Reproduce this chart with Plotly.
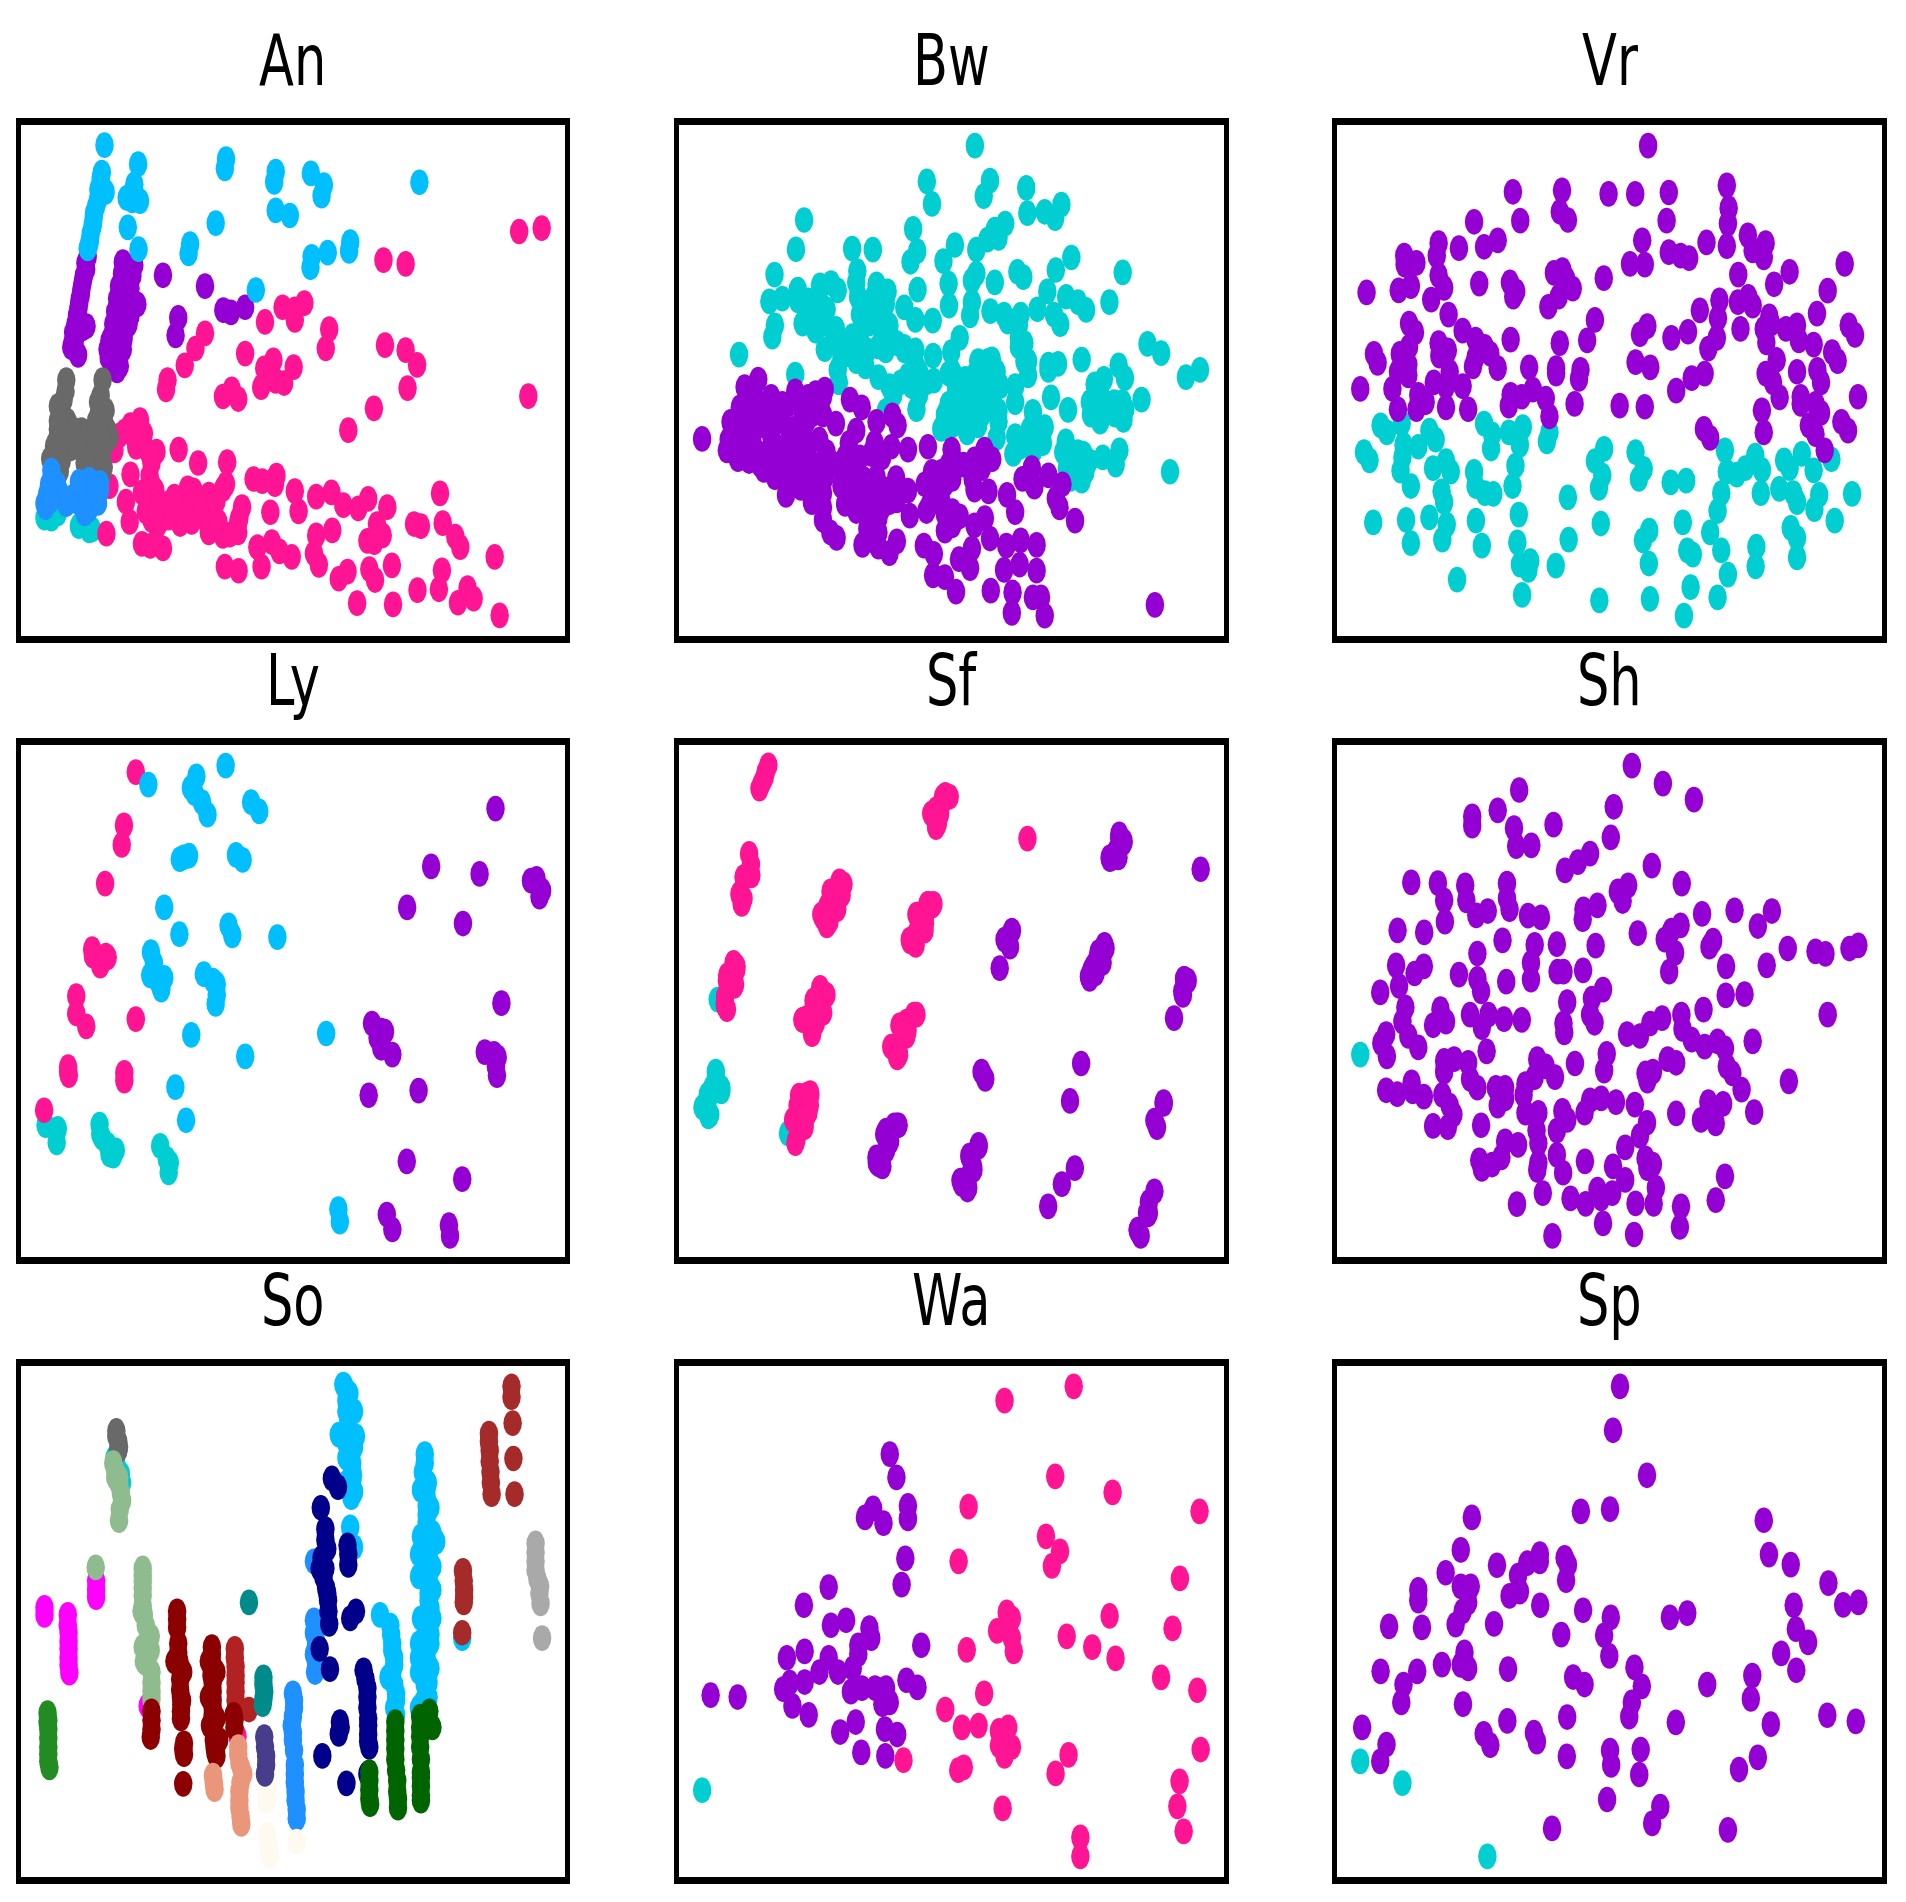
"""Nine small scatter panels of embedded points, coloured by class."""

import plotly.graph_objects as go
from plotly.subplots import make_subplots

PINK = "#FF1493"
VIOLET = "#9400D3"
TURQ = "#00CED1"
SKY = "#00BFFF"
DODGER = "#1E90FF"
DIMGRAY = "#696969"
SEAGREEN = "#8FBC8F"
DARKRED = "#8B0000"
FIREBRICK = "#B22222"
BROWN = "#A52A2A"
NAVY = "#00008B"
DARKGREEN = "#006400"
FOREST = "#228B22"
MAGENTA = "#FF00FF"
DARKGRAY = "#A9A9A9"
DARKCYAN = "#008B8B"
SALMON = "#E9967A"
SLATE = "#483D8B"
FLORAL = "#FFFAF0"

an_turq = [(115,1230),(133,1232),(150,1220),(205,1250),(232,1260),(240,1258)]
an_pink = [(365,998),(340,1010),(310,1035),(298,1070),(355,1062),(375,1060),(408,1073),(466,1068),(517,1100),(593,1098),(340,1127),(390,1130),(285,1155),(405,1165),(328,1192),(338,1240),(385,1200),(440,1195),(395,1235),(420,1235),(470,1245),(450,1210),(490,1160),(505,1165),(490,1205),(545,1175),(582,1162),(555,1215),(520,1220),(545,1265),(582,1273),(622,1265),(632,1205),(625,1230),(662,1138),(685,1143),(722,1130),(718,1150),(706,1217),(770,1167),(780,1215),(826,1180),(866,1170),(897,1200),(936,1208),(962,1185),(1012,1205),(985,1245),(1000,1272),(960,1285),(978,1288),(826,1272),(868,1260),(1150,1172),(1082,1245),(1100,1250),(1157,1243),(1190,1275),(1203,1300),(672,1300),(710,1288),(730,1310),(762,1323),(820,1315),(833,1342),(683,1346),(587,1346),(623,1356),(277,1268),(370,1292),(392,1297),(425,1303),(885,1375),(908,1358),(965,1352),(980,1378),(1024,1343),(1155,1355),(1147,1400),(1091,1402),(1293,1323),(1222,1397),(1238,1422),(1197,1432),(933,1433),(1027,1436),(1306,1462),
           (1002,618),(1060,627),(1357,550),(1416,542),(738,730),(770,735),(795,720),(770,760),(692,765),(535,792),(510,828),(482,868),(437,903),(433,925),(860,782),(851,828),(640,840),(714,856),(690,875),(767,872),(682,920),(720,905),(742,910),(605,925),(582,942),(622,948),(1006,820),(1060,832),(1090,867),(1065,922),(1381,941),(977,970),(910,1022),
           (395,1100),(395,1150),(370,1170),(380,1215),(415,1200),(410,1250),(440,1230),(465,1210),(520,1190),(540,1240),(500,1240),(480,1190),(530,1205),(570,1240),(600,1270),(622,1240),(375,1030),(390,1080),(408,1215),(455,1180),(350,1040),(325,1025),(590,1150),(565,1190)]
an_violet = [(228,610),(224,640),(215,670),(210,700),(205,725),(200,750),(215,780),(190,790),(188,815),(203,843),(320,623),(350,630),(318,650),(345,655),(310,680),(340,685),(358,723),(305,710),(330,740),(300,740),(295,770),(320,770),(290,800),(322,805),(280,830),(310,840),(283,850),(312,870),(300,860),(425,654),(535,680),(465,755),(458,797),(583,737),(603,742),(640,730),
             (222,625),(218,655),(212,685),(207,712),(203,738),(196,770),(195,805),(225,775),(185,825),(335,640),(330,670),(320,695),(335,715),(345,720),(315,730),(340,750),(310,755),(335,770),(305,790),(325,785),(295,820),(320,830),(290,840),(305,880),(285,810)]
an_sky = [(272,345),(360,390),(590,378),(587,400),(720,408),(716,432),(812,412),(846,440),(840,465),(1096,433),(720,500),(757,512),(563,530),(262,423),(256,450),(275,456),(250,490),(244,515),(240,540),(234,570),(232,580),(350,452),(345,476),(365,478),(333,540),(361,592),(496,580),(492,602),(915,575),(912,596),(856,600),(814,610),(811,635),(668,689),
          (265,410),(262,435),(245,505),(236,555),(228,590),(242,530),(255,475),(350,438),(330,470)]
an_gray = [(172,903),(165,950),(155,990),(150,1020),(145,1050),(140,1080),(140,1100),(180,1040),(185,1065),(212,1022),(155,1120),(267,903),(262,940),(258,975),(275,975),(250,1020),(280,1022),(240,1050),(265,1060),(235,1085),(265,1090),(232,1120),(265,1130),
           (160,975),(175,1000),(150,1000),(190,1020),(165,1030),(140,1060),(165,1065),(130,1090),(160,1095),(210,1040),(200,1060),(250,1000),(270,1000),(285,1040),(260,1030),(250,1080),(220,1100),(270,1110),(270,1060),(150,965),(170,930),(255,955)]
an_dodger = [(133,1118),(127,1150),(148,1150),(122,1175),(118,1205),(172,1198),(205,1160),(232,1140),(260,1148),(255,1175),(205,1195),(232,1210),(255,1195),(232,1180),(205,1175),
             (135,1135),(125,1165),(115,1195),(190,1180),(220,1165),(245,1165),(260,1165),(205,1145),(240,1195),(220,1220),(155,1170),(130,1190)]

bw_turq = [(851,127),(721,227),(735,290),(892,225),(875,268),(990,245),(993,316),(1040,312),(1085,292),(1068,330),(389,335),(367,417),(519,415),(575,418),(684,360),(695,422),(677,452),(797,405),(766,450),(855,418),(885,390),(905,362),(933,345),(915,385),(1112,440),(1070,475),(1251,482),(309,488),(533,478),(530,510),(855,485),(843,505),(966,480),(982,495),(905,510),(780,513),(696,530),(1047,535),(372,530),(432,518),(462,512),(480,532),(585,515),(615,535),(295,563),(330,555),(372,560),(400,560),(432,565),(535,550),(580,545),(610,570),(660,580),(690,615),(737,617),(781,575),(843,565),(838,602),(893,590),(930,600),(975,600),(1020,585),(1098,550),(1130,565),(1152,587),(1215,565),(1065,600),(1082,627),(310,630),(303,662),(385,625),(440,625),(420,645),(475,640),(540,600),(565,625),(610,620),(625,670),(810,665),(787,705),(970,665),(1318,682),(1355,708),(445,697),(490,680),(540,670),(590,690),(610,700),(660,700),(738,715),(897,725),(970,690),(995,730),(1140,726),(1240,742),(1076,738),(1050,755),(1257,778),(1200,780),(1175,795),(1422,775),(1460,755),(213,712),(490,720),(480,755),(530,730),(555,745),(590,775),(690,740),(670,770),(740,785),(780,765),(885,730),(910,760),(850,770),(825,780),(483,790),(365,768),(630,825),(700,825),(693,865),(610,870),(800,820),(860,810),(900,810),(960,800),(995,770),(960,845),(1057,832),(1103,867),(1008,872),(1162,845),(1190,850),(1190,900),(1228,845),(1258,865),(1253,895),(1302,838),(770,880),(800,870),(830,860),(880,850),(760,920),(790,910),(830,930),(860,910),(915,900),(910,945),(960,940),(955,990),(1000,950),(1040,915),(1035,960),(1097,955),(1090,985),(1130,985),(1145,990),(1150,1040),(1140,1065),(1100,1030),(1197,1000),(1242,980),(1232,1020),(1379,1040),(1005,1030),
           (540,560),(560,590),(590,600),(600,650),(620,630),(560,700),(520,660),(500,700),(470,670),(640,680),(660,690),(690,700),(700,760),(720,790),(650,790),(620,800),(680,800),(800,800),(790,760),(860,730),(880,790),(870,840),(840,830),(830,800),(810,880),(780,850),(870,880),(900,850),(920,800),(915,870),(825,900),(1120,1010),(1100,985),(1130,1030),(1110,1060),(1160,1010),(1000,920),(975,970),(1010,980),(1050,740),(985,680),(985,730),(940,620),(970,630),(430,600),(410,600),(450,585),(395,620),(1165,880),(1190,820),(1230,880),(1250,845)]
bw_violet = [(113,948),(265,782),(228,803),(300,830),(365,815),(400,830),(445,810),(440,830),(513,838),(545,860),(628,882),(642,910),(210,890),(240,860),(280,870),(330,850),(205,950),(230,900),(270,910),(310,900),(360,920),(390,950),(180,980),(210,1005),(240,1010),(280,1035),(310,1055),(250,960),(300,970),(335,970),(375,975),(340,1010),(375,1015),(430,950),(410,880),(475,905),(530,925),(585,900),(580,960),(510,960),(625,970),(670,978),(724,970),(788,978),(877,978),(898,1005),(850,1005),(450,985),(430,1020),(400,1050),(340,1105),(410,1125),(440,1100),(500,1000),(510,1040),(490,1080),(500,1130),(540,1000),(585,1055),(580,1090),(620,1125),(540,1080),(560,1150),(590,1170),(638,1058),(670,1093),(735,1040),(780,1020),(715,1075),(770,1075),(845,1060),(888,1095),(850,1090),(938,1105),(960,1153),(980,1060),(1005,1030),(1012,1082),(1050,1050),(1088,1075),(1070,1115),(1080,1140),(1122,1177),(675,1163),(720,1150),(760,1120),(790,1150),(810,1165),(850,1190),(878,1170),(892,1227),(770,1205),(440,1175),(460,1210),(477,1225),(547,1245),(590,1250),(620,1268),(640,1235),(713,1247),(740,1270),(975,1232),(936,1247),(1018,1245),(843,1255),(808,1285),(838,1310),(930,1315),(972,1300),(1018,1317),(738,1330),(770,1335),(800,1376),(894,1373),(953,1378),(1008,1392),(1030,1392),(1040,1443),(951,1435),(1338,1413),
             (255,830),(290,850),(350,850),(380,860),(420,820),(215,860),(190,900),(185,950),(220,930),(250,890),(280,900),(300,940),(330,900),(350,945),(395,900),(440,880),(200,975),(230,975),(270,990),(305,1005),(270,1020),(330,1040),(350,1060),(370,1050),(300,1035),(400,1000),(420,1070),(445,1055),(450,1040),(400,1090),(380,1085),(440,1140),(480,1020),(530,1040),(550,1060),(510,1110),(540,1120),(580,1125),(600,1140),(560,1200),(590,1210),(530,1150),(520,1080),(600,1000),(570,990),(610,1090),(640,1120),(740,1090),(790,1060),(790,1000),(760,1040),(735,1085),(820,1020),(850,1040),(870,1030),(730,1130),(770,1160),(790,1190)]

vr_turq = [(163,910),(180,930),(220,905),(295,925),(312,950),(225,965),(265,970),(118,985),(133,1008),(222,1000),(217,1037),(305,1030),(340,1010),(353,1040),(245,1080),(443,905),(465,935),(510,930),(548,915),(540,965),(462,975),(620,930),(613,955),(528,1023),(520,1080),(416,1040),(420,1080),(445,1100),(468,1102),(328,1095),(335,1125),(295,1168),(143,1182),(232,1175),(342,1188),(330,1230),(245,1240),(421,1177),(437,1247),(537,1160),(533,1238),(670,1112),(759,1185),(672,1230),(768,976),(743,1010),(763,1050),(754,1085),(853,985),(875,1032),(862,1060),(948,1070),(990,1065),(1095,980),(1100,1040),(1127,1048),(1150,1030),(1177,995),(1195,1035),(1192,1100),(1085,1100),(1075,1150),(1055,1210),(1242,1088),(1255,1008),(1270,1030),(1303,990),(1335,1036),(1280,1100),(1290,1125),(1337,1145),(1350,1105),(1439,1102),(1392,1177),(1273,1197),(1290,1225),(1290,1280),(890,1205),(873,1232),(889,1297),(981,1182),(993,1260),(1008,1272),(1085,1260),(1180,1250),(1103,1328),(1178,1305),(568,1290),(540,1300),(563,1315),(637,1303),(370,1342),(546,1385),(755,1400),(892,1396),(1002,1363),(1075,1392),(984,1443),(1383,1005)]
vr_violet = [(887,127),(521,256),(654,252),(780,262),(852,262),(943,258),(1100,238),(1105,302),(416,340),(541,337),(648,312),(670,335),(937,337),(1103,345),(1157,378),(1100,408),(1045,398),(871,392),(943,425),(975,435),(998,442),(838,458),(878,460),(1205,400),(1170,420),(1200,440),(480,392),(443,410),(375,414),(320,400),(315,435),(227,435),(228,460),(260,455),(1131,488),(1270,480),(1228,515),(1419,458),(1373,533),(767,498),(430,513),(513,510),(530,535),(522,550),(655,475),(632,483),(665,500),(683,527),(645,550),(617,578),(125,538),(212,532),(245,520),(320,490),(335,525),(300,558),(347,600),(1080,560),(1130,565),(1158,550),(1170,575),(1076,610),(1027,588),(1215,605),(1344,597),(995,648),(950,665),(885,632),(865,655),(1137,640),(1430,630),(1447,657),(743,615),(722,672),(240,625),(256,650),(1200,640),(1220,625),(1260,640),(1290,630),(1207,678),(1295,672),(1335,684),(1073,665),(1050,695),(1385,705),(1400,730),(515,670),(648,680),(385,645),(320,680),(345,700),(420,670),(445,690),(420,720),(460,710),(322,715),(145,710),(155,735),(240,690),(215,710),(238,740),(210,760),(238,770),(1235,727),(480,750),(413,745),(565,748),(638,750),(638,765),(704,755),(700,780),(853,733),(893,748),(350,760),(1040,765),(1005,778),(963,813),(1205,765),(1225,790),(1243,832),(1290,760),(1345,755),(1355,790),(108,808),(195,808),(307,790),(385,800),(340,800),(265,825),(285,845),(210,865),(260,865),(340,860),(400,865),(575,810),(545,830),(515,825),(510,855),(610,835),(620,885),(688,850),(810,855),(878,858),(1195,868),(1300,830),(1340,850),(1355,875),(1300,850),(1038,920),(1055,945),(1200,930),(1322,910),(1340,935),(1410,900),(1428,925),(1455,830),(1365,980)]

ly_turq = [(122,1135),(155,1145),(152,1183),(268,1133),(275,1170),(295,1217),(312,1205),(432,1193),(458,1240),(455,1267),(270,1160),(290,1190),(305,1220),(450,1230)]
ly_pink = [(366,146),(334,295),(328,350),(283,458),(248,642),(285,660),(270,688),(205,773),(205,822),(232,858),(366,838),(183,972),(185,995),(335,988),(335,1010),(118,1093),(265,670),(250,660),(290,665),(183,985)]
ly_sky = [(400,181),(609,128),(530,158),(515,190),(545,230),(560,265),(678,230),(700,256),(485,390),(510,380),(637,378),(655,392),(443,525),(484,600),(617,575),(627,603),(749,608),(407,650),(415,710),(443,722),(435,755),(550,712),(585,740),(582,795),(516,882),(662,942),(881,878),(473,1028),(502,1121),(914,1370),(918,1405),(415,680),(420,720),(430,740),(405,715),(575,730),(585,770),(495,385),(525,205)]
ly_violet = [(1339,248),(1165,410),(1296,431),(1435,450),(1450,445),(1465,478),(1458,495),(1100,525),(1251,570),(1355,793),(1005,850),(1040,873),(1030,918),(1060,937),(1310,930),(1345,945),(1343,995),(996,1051),(1131,1038),(1099,1236),(1249,1286),(1045,1385),(1060,1427),(1213,1415),(1216,1445),(1030,870),(1020,890),(1335,935),(1340,970)]

sf_turq = [(150,985),(165,1030),(130,1060),(135,1105),(155,783),(345,1158),(150,1000),(165,1040),(140,1030),(125,1075),(130,1110),(114,1085),(128,1050)]
sf_pink = [(292,127),(282,160),(268,192),(775,213),(732,262),(750,290),(762,230),(992,332),(240,375),(237,435),(215,490),(225,500),(484,452),(460,480),(452,520),(440,545),(457,565),(725,515),(695,545),(700,570),(680,615),(690,630),(198,680),(185,715),(192,740),(175,800),(432,750),(442,770),(420,790),(395,835),(410,870),(685,825),(650,855),(655,880),(630,915),(645,938),(395,1050),(385,1060),(375,1105),(380,1130),(368,1175),
           (285,145),(275,175),(770,210),(745,250),(755,265),(745,300),(245,405),(225,440),(240,425),(220,515),(490,465),(465,490),(470,520),(440,555),(450,575),(475,500),(735,520),(710,540),(715,570),(690,600),(675,620),(715,550),(205,700),(180,730),(200,745),(175,775),(180,810),(445,770),(415,800),(440,820),(385,840),(420,850),(410,880),(690,825),(665,845),(665,885),(630,920),(640,945),(405,1045),(375,1075),(400,1100),(360,1120),(390,1140),(365,1185),
           (495,460),(435,545),(490,490),(478,530),(782,215),(764,215),(756,260),(246,435),(214,487),(738,515),(722,515),(692,545),(714,590),(674,615),(206,690),(202,740),(181,715),(174,795),(449,770),(384,840),(436,820),(414,785),(692,825),(646,855),(624,915),(668,870),(644,930),(375,1052),(405,1052),(359,1120),(391,1120),(371,1080),(404,1080)]
sf_violet = [(1240,332),(1225,385),(1460,418),(950,590),(930,615),(945,635),(917,695),(1200,635),(1180,670),(1165,700),(1158,718),(1415,725),(1412,770),(1388,835),(868,985),(878,1005),(1137,962),(1107,1067),(1360,1070),(1335,1122),(1342,1140),(632,1135),(605,1160),(610,1205),(590,1245),(597,1240),(860,1195),(840,1225),(840,1265),(815,1290),(832,1310),(1120,1255),(1085,1300),(1048,1362),(1335,1320),(1315,1380),(1290,1427),(1298,1445),
             (1240,320),(1250,345),(1230,370),(1215,390),(1200,630),(1190,660),(1170,690),(1195,680),(1160,725),(640,1135),(610,1150),(615,1190),(585,1240),(600,1250),(860,1190),(835,1220),(845,1250),(815,1300),(830,1315),(1425,730),(1410,760),(1320,1350),(1318,1385),(1290,1430),(1360,1075),
             (644,1135),(584,1225),(621,1180),(836,1225),(811,1290),(846,1260),(1252,340),(1214,385),(1238,385),(1203,640),(1184,650),(1176,710),(1159,718),(1416,725),(1320,1380)]

sh_turq = [(108,937)]
sh_violet = [(843,128),(927,178),(1011,223),(538,196),(794,243),(480,253),(411,270),(411,296),(631,293),(524,303),(786,329),(530,353),(571,351),(730,374),(697,398),(662,421),(897,408),(246,455),(318,457),(335,505),(392,463),(395,505),(422,547),(453,535),(505,458),(505,500),(512,530),(337,565),(978,458),(833,463),(805,480),(818,507),(750,519),(712,530),(710,558),(562,548),(597,553),(1033,543),(1121,533),(1222,535),(1184,577),(209,589),(281,595),(859,597),(975,575),(950,590),(932,615),(493,617),(580,630),(640,628),(745,632),(1063,618),(1053,635),(1265,640),(1340,648),(1367,655),(1432,640),(1456,631),(425,654),(960,652),(1098,690),(1208,687),(205,687),(280,690),(255,710),(375,713),(425,725),(570,680),(570,727),(503,733),(642,705),(658,705),(711,701),(944,705),(435,760),(213,745),(162,763),(765,755),(735,780),(668,790),(1097,771),(1148,768),(1037,811),(1373,825),(230,805),(325,810),(305,855),(340,845),(405,825),(455,825),(497,838),(545,840),(437,860),(658,850),(660,875),(730,825),(742,848),(222,845),(178,880),(165,905),(180,942),(238,885),(265,917),(977,825),(925,835),(893,850),(830,880),(865,885),(980,865),(1005,895),(1040,915),(1075,900),(1095,920),(1170,900),(450,928),(775,935),(689,962),(940,950),(963,960),(900,985),(880,990),(885,1010),(1100,970),(1115,990),(1268,1012),(335,955),(362,950),(335,985),(400,960),(405,1005),(425,1030),(587,950),(610,970),(635,1000),(768,982),(178,1037),(208,1048),(247,1015),(280,1055),(250,1040),(330,1050),(350,1080),(360,1105),(345,1140),(305,1137),(475,1030),(500,1030),(480,1080),(500,1060),(555,1020),(580,1000),(550,1050),(555,1100),(590,1100),(655,1095),(668,1120),(640,1150),(730,1065),(760,1060),(715,1100),(800,1070),(851,1077),(1140,1035),(1050,1070),(1090,1075),(1050,1100),(1030,1120),(1070,1130),(1174,1098),(963,1102),(884,1128),(865,1165),(825,1197),(435,1135),(500,1180),(535,1190),(585,1150),(590,1185),(640,1218),(430,1233),(437,1257),(465,1245),(490,1225),(590,1240),(587,1260),(657,1268),(716,1236),(792,1250),(825,1288),(880,1228),(900,1245),(885,1255),(908,1310),(1095,1278),(1070,1345),(532,1356),(602,1325),(677,1340),(718,1355),(750,1315),(760,1340),(790,1325),(853,1354),(902,1355),(976,1362),(765,1410),(628,1445),(849,1441),(973,1420)]

so_turq = [(303,345),(315,375),(298,330),(318,400)]
so_pink = [(620,1110)]
so_sky = [(897,125),(913,150),(905,200),(910,225),(895,268),(915,275),(915,310),(920,345),(922,380),(918,410),(918,440),(915,525),(925,580),(1110,320),(1105,370),(1118,400),(1115,440),(1115,490),(1115,530),(1140,565),(1120,600),(1130,635),(1095,662),(1120,690),(1120,730),(1115,770),(1125,825),(1095,850),(1115,890),(1095,930),(1110,965),(1120,1000),(1095,1030),(993,770),(1022,825),(1025,870),(1030,910),(1015,945),(1035,990),(1030,1030),(1208,835),
          (905,170),(912,250),(905,290),(915,330),(920,365),(920,395),(925,425),(1110,345),(1115,415),(1115,465),(1115,510),(1118,550),(1125,580),(1115,620),(1115,650),(1120,670),(1120,710),(1125,750),(1115,800),(1110,830),(1105,870),(1110,910),(1110,945),(1115,985),(1105,1015),(1020,800),(1025,850),(1030,890),(1025,930),(1030,965),(1035,1010),(1035,1050),
          (1100,420),(1125,470),(1100,550),(1130,540),(1095,600),(1130,700),(1100,780),(1130,780),(1125,850),(1095,890),(1125,920),(1120,960),(900,130),(925,200),(885,265),(930,270),(905,330),(925,300),(905,400)]
so_dodger = [(820,620),(820,785),(825,860),(823,930),(765,990),(768,1030),(762,1080),(765,1120),(770,1190),(770,1240),(772,1290),(775,1340),(768,1010),(765,1055),(765,1100),(768,1150),(770,1215),(772,1265),(775,1315),(820,880),(825,900),(820,820),(825,840)]
so_magenta = [(250,700),(115,750),(176,770),(178,820),(178,865),(180,932),(385,1025),(250,675),(250,720),(176,800),(178,845),(178,890),(178,910),(115,770)]
so_dimgray = [(303,255),(308,285),(308,310),(303,270),(310,300)]
so_seagreen = [(300,365),(310,405),(318,450),(310,505),(249,637),(372,640),(372,715),(375,770),(385,840),(380,905),(395,960),(395,1005),(300,385),(315,430),(312,475),(372,675),(372,695),(372,745),(380,800),(385,870),(385,880),(395,930),(395,985),(372,660),(369,760),(372,860),(393,830),(393,870),(375,900),(310,385),(295,345)]
so_firebrick = [(613,865),(615,915),(615,960),(615,1010),(650,1035),(613,890),(615,940),(615,985)]
so_darkred = [(462,760),(462,805),(465,875),(470,920),(470,980),(473,1020),(472,1060),(395,1065),(393,1112),(480,1130),(480,1160),(478,1243),(553,880),(553,920),(555,960),(555,1010),(555,1050),(558,1100),(560,1140),(565,1165),(610,1050),(612,1085),
              (462,782),(465,850),(468,900),(470,950),(472,1000),(472,1040),(395,1090),(395,1040),(478,1145),(553,860),(553,900),(552,940),(555,985),(555,1030),(556,1075),(558,1120),(562,1155),(612,1065),
              (455,900),(478,930),(475,1010),(545,900),(565,930),(545,1000),(565,1060),(548,1080),(572,1120)]
so_navy = [(867,388),(883,412),(838,470),(850,530),(855,585),(835,640),(850,640),(852,695),(857,730),(860,795),(835,865),(862,922),(908,575),(910,630),(930,760),(915,780),(955,950),(960,1000),(962,1060),(962,1105),(965,1140),(888,1070),(885,1103),(842,1165),(905,1242),(960,1215),(850,560),(840,610),(845,665),(855,710),(858,760),(960,975),(960,1030),(962,1080),(962,1125),(950,925),(890,1085),(910,600)]
so_brown = [(1337,130),(1337,160),(1340,233),(1342,332),(1345,432),(1278,262),(1280,310),(1282,370),(1285,432),(1210,647),(1213,700),(1212,735),(1208,820),(1278,285),(1280,340),(1283,400),(1212,675),(1213,720)]
so_darkgray = [(1400,570),(1400,620),(1405,670),(1412,690),(1413,738),(1417,835),(1400,595),(1400,645),(1410,710)]
so_darkcyan = [(650,735),(688,945),(690,985),(686,1020),(688,965),(688,1005)]
so_floral = [(698,1260),(695,1290),(698,1385),(700,1415),(705,1445),(775,1405),(698,1275),(698,1400),(702,1430)]
so_salmon = [(622,1140),(625,1185),(635,1215),(625,1265),(625,1310),(630,1355),(556,1220),(560,1258),(622,1160),(628,1240),(625,1290),(628,1335),(630,1200),(558,1240)]
so_slate = [(690,1112),(695,1165),(692,1215),(692,1140),(695,1190)]
so_darkgreen = [(1033,1070),(1033,1120),(1033,1175),(1038,1235),(1040,1310),(1098,1055),(1122,1040),(1130,1085),(1098,1110),(1100,1175),(1100,1250),(1100,1275),(965,1210),(965,1260),(967,1300),(1033,1095),(1033,1145),(1035,1205),(1038,1265),(1098,1085),(1098,1140),(1100,1210),(1100,1225),(965,1235),(965,1285),(1040,1285),(1100,1290)]
so_forest = [(123,1045),(125,1090),(125,1140),(125,1180),(128,1197),(123,1070),(125,1115),(125,1160),(125,1065)]

wa_turq = [(113,1261)]
wa_violet = [(620,320),(638,385),(575,472),(553,497),(603,513),(669,465),(669,500),(662,612),(652,685),(455,692),(388,743),(461,799),(502,785),(565,807),(570,835),(535,855),(705,855),(342,890),(390,872),(455,890),(430,930),(480,930),(520,920),(535,880),(350,960),(390,958),(332,978),(357,1025),(401,1050),(515,985),(545,975),(580,975),(610,975),(620,1015),(600,1020),(665,953),(695,973),(136,995),(209,1000),(528,1070),(486,1098),(607,1090),(640,1105),(543,1155),(608,1165)]
wa_pink = [(930,170),(1117,130),(1067,382),(1222,427),(1457,480),(833,467),(1042,550),(1080,592),(1058,633),(806,620),(1404,668),(936,763),(950,780),(910,815),(950,835),(955,872),(1214,773),(1098,830),(1167,860),(1230,892),(1384,808),(828,868),(1353,945),(1451,981),(875,990),(770,1035),(815,1085),(860,1080),(915,1095),(940,1085),(915,1135),(950,1140),(930,1165),(1103,1162),(1068,1214),(1460,1147),(657,1177),(805,1205),(820,1197),(1403,1236),(1397,1306),(925,1312),(1414,1376),(1135,1393),(1135,1446)]

sp_turq = [(108,1180),(222,1241),(452,1446)]
sp_violet = [(811,130),(792,253),(884,379),(705,480),(784,474),(410,497),(1200,505),(380,588),(594,600),(594,620),(560,625),(535,660),(661,610),(670,630),(665,673),(478,631),(1214,601),(1273,629),(339,652),(1375,681),(380,690),(407,690),(400,735),(265,700),(265,730),(540,705),(512,717),(595,743),(1281,743),(1415,742),(1456,735),(385,760),(366,797),(275,805),(186,802),(470,795),(711,757),(786,777),(946,777),(993,765),(652,825),(768,827),(1287,810),(1320,847),(390,875),(380,910),(400,920),(329,909),(163,928),(262,928),(508,922),(782,885),(1247,878),(850,917),(1169,940),(1288,925),(684,944),(715,965),(870,970),(1047,965),(225,965),(219,1015),(1165,1005),(386,1020),(843,1015),(836,1055),(668,1056),(962,1071),(1372,1051),(1449,1068),(506,1067),(113,1085),(1219,1076),(442,1103),(460,1135),(578,1100),(586,1125),(179,1133),(162,1180),(667,1166),(784,1150),(787,1190),(867,1147),(863,1217),(1184,1169),(1133,1203),(776,1287),(920,1307),(898,1354),(627,1368),(1103,1372)]

titles = ["An", "Bw", "Vr", "Ly", "Sf", "Sh", "So", "Wa", "Sp"]

# draw order per panel, later classes sit on top
series = [
    [(an_turq, TURQ), (an_pink, PINK), (an_violet, VIOLET), (an_sky, SKY), (an_gray, DIMGRAY), (an_dodger, DODGER)],
    [(bw_turq, TURQ), (bw_violet, VIOLET)],
    [(vr_turq, TURQ), (vr_violet, VIOLET)],
    [(ly_turq, TURQ), (ly_pink, PINK), (ly_sky, SKY), (ly_violet, VIOLET)],
    [(sf_turq, TURQ), (sf_pink, PINK), (sf_violet, VIOLET)],
    [(sh_turq, TURQ), (sh_violet, VIOLET)],
    [(so_turq, TURQ), (so_pink, PINK), (so_sky, SKY), (so_dodger, DODGER), (so_magenta, MAGENTA), (so_dimgray, DIMGRAY),
     (so_seagreen, SEAGREEN), (so_firebrick, FIREBRICK), (so_darkred, DARKRED), (so_navy, NAVY), (so_brown, BROWN),
     (so_darkgray, DARKGRAY), (so_darkcyan, DARKCYAN), (so_floral, FLORAL), (so_salmon, SALMON), (so_slate, SLATE),
     (so_darkgreen, DARKGREEN), (so_forest, FOREST)],
    [(wa_turq, TURQ), (wa_violet, VIOLET), (wa_pink, PINK)],
    [(sp_turq, TURQ), (sp_violet, VIOLET)],
]

# value ranges of each panel, left/right and bottom/top, up to the inside of the frame
x_ranges = [(53, 1477), (50, 1525), (45, 1520), (55, 1527), (50, 1523), (45, 1520), (53, 1477), (50, 1523), (45, 1520)]
y_ranges = [(1511, 297), (1500, 69), (1500, 69), (1504, 70), (1504, 70), (1504, 70), (1504, 73), (1504, 73), (1504, 73)]

WIDTH = 1906
FULL_HEIGHT = 1902
STRETCH = 1.39  # the picture is stretched upward, markers and text included
HEIGHT = round(FULL_HEIGHT / STRETCH)
# pixel box of each column and row, inside the frame line
col_px = [(20.8, 565), (678.8, 1224), (1337, 1882)]
row_px = [(125, 636), (745, 1257), (1366, 1877)]

fig = make_subplots(rows=3, cols=3)
for i, panel in enumerate(series):
    r, c = divmod(i, 3)
    for points, color in panel:
        fig.add_trace(
            go.Scatter(
                x=[p[0] for p in points],
                y=[p[1] for p in points],
                mode="markers",
                marker=dict(size=18.5, color=color, line=dict(width=0)),
                showlegend=False,
            ),
            row=r + 1,
            col=c + 1,
        )
    axis = dict(showticklabels=False, ticks="", showgrid=False, zeroline=False,
                showline=True, mirror=True, linecolor="black", linewidth=4.5)
    fig.update_xaxes(range=x_ranges[i], domain=[col_px[c][0] / WIDTH, col_px[c][1] / WIDTH],
                     row=r + 1, col=c + 1, **axis)
    fig.update_yaxes(range=y_ranges[i], domain=[1 - row_px[r][1] / FULL_HEIGHT, 1 - row_px[r][0] / FULL_HEIGHT],
                     row=r + 1, col=c + 1, **axis)
    fig.add_annotation(
        text=titles[i],
        x=sum(col_px[c]) / 2 / WIDTH,
        y=1 - row_px[r][0] / FULL_HEIGHT,
        xref="paper",
        yref="paper",
        xanchor="center",
        yanchor="bottom",
        yshift=15,
        showarrow=False,
        font=dict(family="DejaVu Sans", size=51, color="black"),
    )

fig.update_layout(
    width=WIDTH,
    height=HEIGHT,
    autosize=False,
    margin=dict(l=0, r=0, t=0, b=0),
    paper_bgcolor="white",
    plot_bgcolor="white",
)

stretch_js = (
    "document.body.style.margin='0';document.body.style.overflow='hidden';"
    "var gd=document.getElementById('{plot_id}');"
    "gd.style.transformOrigin='0 0';"
    f"gd.style.transform='scale(1,{FULL_HEIGHT / HEIGHT})';"
)
fig.write_html("out.html", post_script=stretch_js, config={"displayModeBar": False})
